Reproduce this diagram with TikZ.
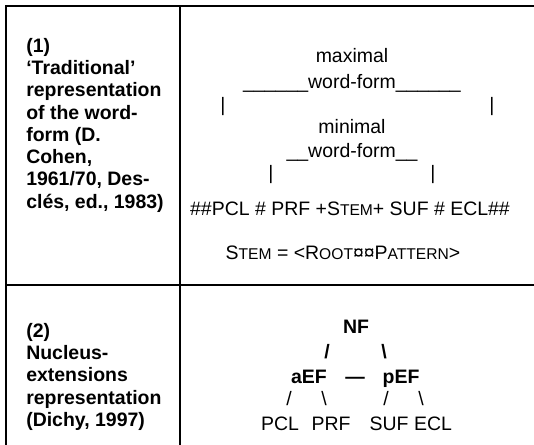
\documentclass[tikz,border=0pt]{standalone}
\usepackage{fontspec}
\setmainfont{Liberation Sans}
\usetikzlibrary{positioning}
\newcommand{\fakesc}[2]{#1{\fontsize{11.7pt}{12pt}\selectfont #2}}
\tikzset{
    celltext/.style={
           align=left,
           inner sep=0pt,
           anchor=north west,
           font=\fontsize{14.6pt}{16.7pt}\selectfont\bfseries,
           },
}
\tikzset{
    formtext/.style={
           inner sep=0pt,
           anchor=base,
           font=\fontsize{14.6pt}{17pt}\selectfont,
           },
    treebold/.style={
           formtext,
           font=\fontsize{14.6pt}{17pt}\selectfont\bfseries,
           },
    rule/.style={
           line width=1.5pt,
           },
}

\begin{document}
\begin{tikzpicture}[x=0.75pt,y=-0.75pt]
 \useasboundingbox (0,0) rectangle (534,445);

 % table rules
 \draw[rule] (534,6) -- (6,6) -- (6,445);
 \draw[rule] (180,6) -- (180,445);
 \draw[rule] (6,285) -- (534,285);

 % left column
 \node[celltext] (head1) at (26,38)
 {(1)\\ ‘Traditional’\\ representation\\ of the word-\\ form (D.\\ Cohen,\\ 1961/70, Des-\\ clés, ed., 1983)};

 \node[celltext] (head2) at (26,323)
 {(2)\\ Nucleus-\\ extensions\\ representation\\ (Dichy, 1997)};

 % traditional word-form
 \node[formtext] (maxi) at (352,63) {maximal};
 \node[formtext] (maxform) at (352,89) {\_\_\_\_\_\_word-form\_\_\_\_\_\_};
 \node[formtext] (maxl) at (223,112) {|};
 \node[formtext] (maxr) at (492,112) {|};
 \node[formtext] (mini) at (352,134) {minimal};
 \node[formtext] (minform) at (352,157) {\_\_word-form\_\_};
 \node[formtext] (minl) at (271,180) {|};
 \node[formtext] (minr) at (433,180) {|};
 \node[formtext] (chain) at (350,215)
 {\#\#PCL \# PRF +\fakesc{S}{TEM}+ SUF \# ECL\#\#};
 \node[formtext] (stem) at (343,259)
 {\fakesc{S}{TEM} = <\fakesc{R}{OOT}¤¤\fakesc{P}{ATTERN}>};

 % nucleus-extensions tree
 \node[treebold] (NF) at (356,333) {NF};
 \node[treebold] (NFl) at (327,358) {/};
 \node[treebold] (NFr) at (384,358) {\textbackslash};
 \node[treebold] (aEF) at (309,383) {aEF};
 \node[treebold] (dash) at (355,383) {—};
 \node[treebold] (pEF) at (401,383) {pEF};
 \node[formtext] (aEFl) at (289,405) {/};
 \node[formtext] (aEFr) at (324,405) {\textbackslash};
 \node[formtext] (pEFl) at (386,405) {/};
 \node[formtext] (pEFr) at (421,405) {\textbackslash};
 \node[formtext] (PCL) at (280,430) {PCL};
 \node[formtext] (PRF) at (331,430) {PRF};
 \node[formtext] (SUF) at (389,430) {SUF};
 \node[formtext] (ECL) at (433,430) {ECL};

\end{tikzpicture}
\end{document}
